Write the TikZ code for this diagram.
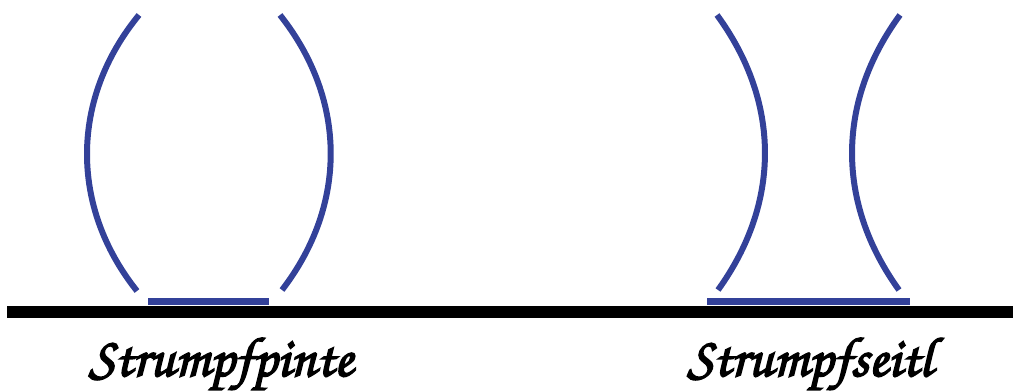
\documentclass[tikz,border=0pt]{standalone}
\usepackage[T1]{fontenc}
\usetikzlibrary{positioning}
\definecolor{glassblue}{RGB}{51,65,153}
% heavier strokes for the script labels
\newcommand{\heavytext}[1]{\special{pdf:literal direct 2 Tr 1.6 w}#1\special{pdf:literal direct 0 Tr}}
\tikzset{
  wall/.style={draw=glassblue, line width=6pt},
  base/.style={draw=glassblue, line width=7pt},
  floor/.style={draw=black, line width=12pt},
  glassname/.style={font=\fontfamily{pzc}\fontseries{m}\fontshape{it}\fontsize{56}{60}\selectfont, inner sep=0pt, anchor=base}
}
\begin{document}
\begin{tikzpicture}[x=1pt,y=1pt]
    \useasboundingbox (0,0) rectangle (1013,391);
    % floor
    \coordinate (fl) at (7,78.5);
    \coordinate (fr) at (1013,78.5);
    \draw[floor] (fl) -- (fr);
    % Strumpfpinte
    \coordinate (pLt) at (139,376);
    \coordinate (pLb) at (137,100);
    \coordinate (pRt) at (280,376);
    \coordinate (pRb) at (282,101);
    \coordinate (pBl) at (148,89.5);
    \coordinate (pBr) at (269,89.5);
    \draw[wall] (pLt) to[bend right=39] (pLb);
    \draw[wall] (pRt) to[bend left=38] (pRb);
    \draw[base] (pBl) -- (pBr);
    \node[glassname] (pname) at (221,15) {\heavytext{Strumpfpinte}};
    % Strumpfseitl
    \coordinate (sLt) at (717,376);
    \coordinate (sLb) at (718,101);
    \coordinate (sRt) at (900,376);
    \coordinate (sRb) at (899,101);
    \coordinate (sBl) at (707,89.5);
    \coordinate (sBr) at (910,89.5);
    \draw[wall] (sLt) to[bend left=36] (sLb);
    \draw[wall] (sRt) to[bend right=36] (sRb);
    \draw[base] (sBl) -- (sBr);
    \node[glassname] (sname) at (810,15) {\heavytext{Strumpfseitl}};
\end{tikzpicture}
\end{document}
